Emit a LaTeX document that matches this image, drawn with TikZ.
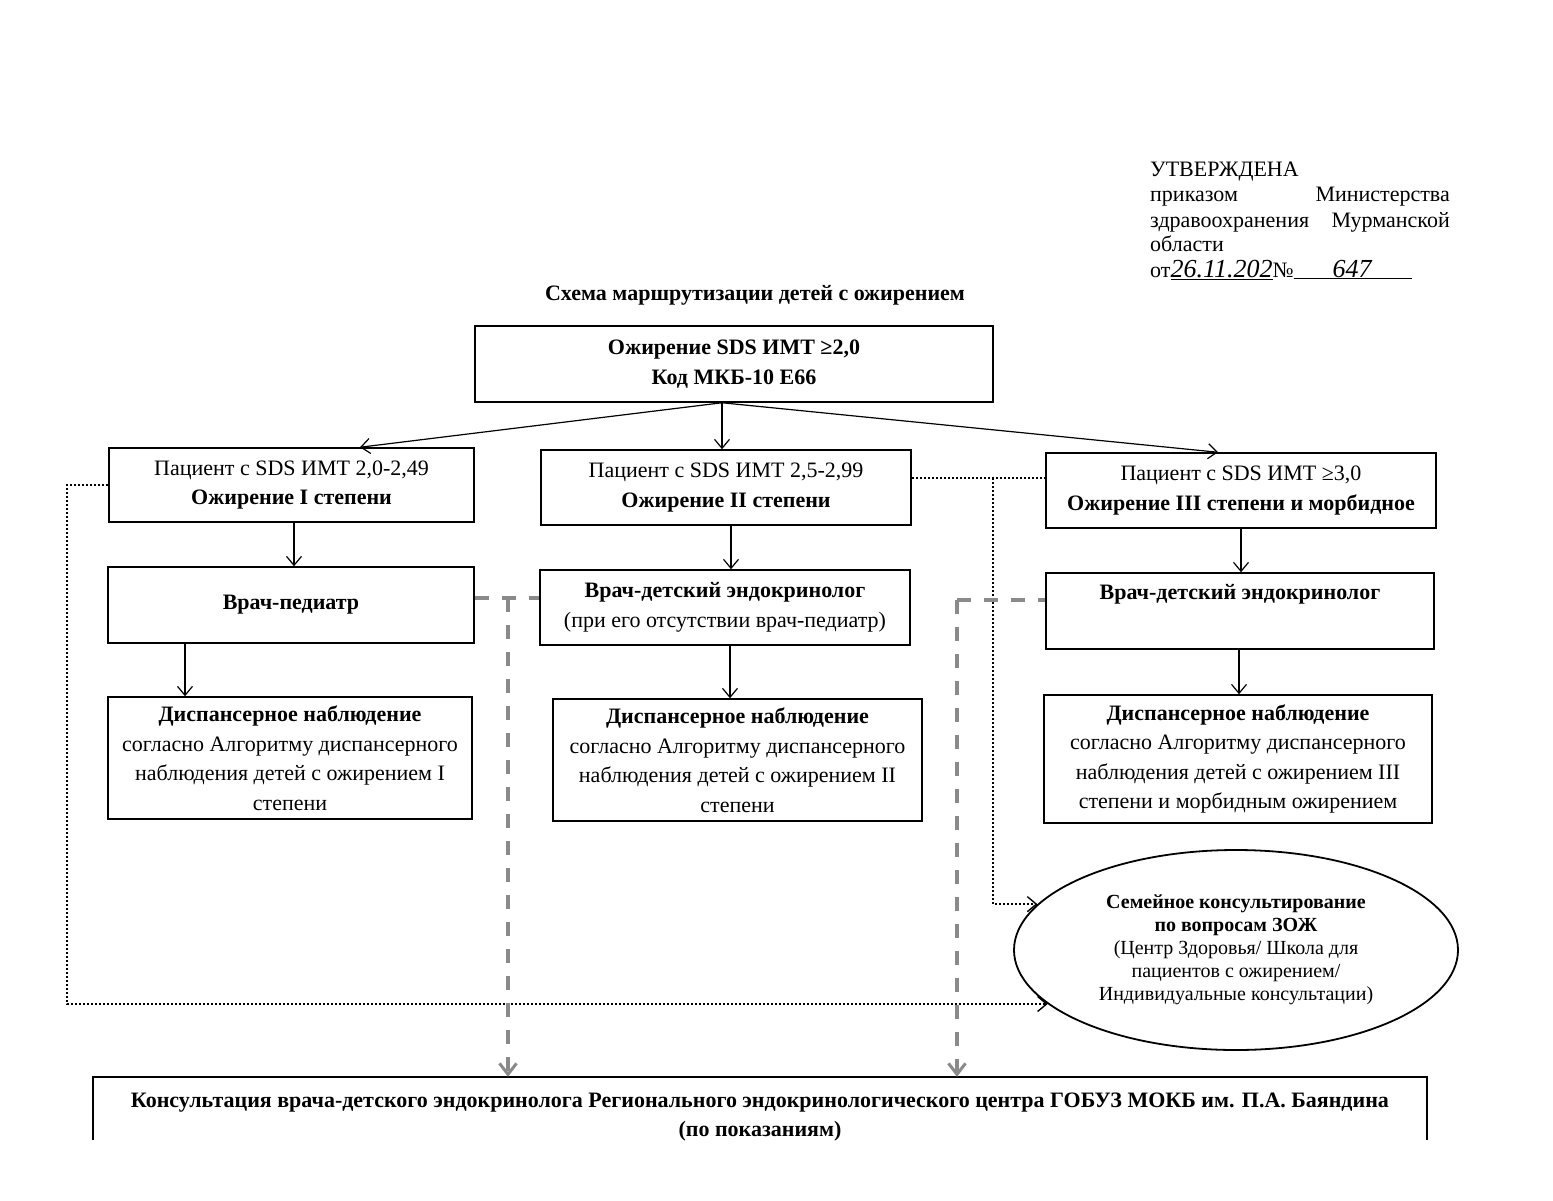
\documentclass[tikz,border=0pt]{standalone}
\usepackage{fontspec}
\setmainfont{Liberation Serif}
\usetikzlibrary{arrows.meta,shapes.geometric,calc}
\newcommand\mainfs{\fontsize{22}{29.5}\selectfont}
\newcommand\ellfs{\fontsize{20}{23}\selectfont}
\newcommand\handfs{\fontsize{26}{26}\selectfont}
\definecolor{dashgray}{HTML}{8A8A8A}
\begin{document}
\begin{tikzpicture}[x=1pt,y=-1pt,
  box/.style={draw, line width=1.5pt, align=center, inner sep=0pt, font=\mainfs},
  arr/.style={line width=1.2pt, -{Straight Barb[length=9pt,width=15pt,line width=1.2pt]}},
  graydash/.style={draw=dashgray, line width=4pt, dash pattern=on 14pt off 13pt},
  grayarr/.style={graydash, -{Straight Barb[length=11pt,width=17pt,line width=3pt]}},
  dotline/.style={line width=1.8pt, dash pattern=on 1.8pt off 2.2pt},
  dotarr/.style={dotline, -{Straight Barb[length=9pt,width=15pt,line width=1.4pt]}},
  txt/.style={font=\mainfs, inner sep=0pt}
]
\useasboundingbox (0,0) rectangle (1553,1200);
\fill[white] (0,0) rectangle (1553,1200);

% approval block
\node[txt, anchor=base west] (u1) at (1150,176) {УТВЕРЖДЕНА};
\node[txt, anchor=base west] (u2a) at (1150,201) {приказом};
\node[txt, anchor=base east] (u2b) at (1450,201) {Министерства};
\node[txt, anchor=base west] (u3a) at (1150,227) {здравоохранения};
\node[txt, anchor=base east] (u3b) at (1450,227) {Мурманской};
\node[txt, anchor=base west] (u4) at (1150,251) {области};
\node[txt, anchor=base west] (u5) at (1150,277) {от\underline{\handfs\textit{26.11.202}}№\underline{\makebox[118pt]{\handfs\textit{647}}}};

% title
\node[txt] (title) at (755,295) {\textbf{Схема маршрутизации детей с ожирением}};

% boxes
\node[box, minimum width=518, minimum height=76] (top) at (734,364)
  {\textbf{Ожирение SDS ИМТ ≥2,0}\\\textbf{Код МКБ-10 Е66}};
\node[box, minimum width=365, minimum height=74] (b1) at (291.5,485)
  {Пациент с SDS ИМТ 2,0-2,49\\\textbf{Ожирение I степени}};
\node[box, minimum width=370, minimum height=75] (b2) at (726,487.5)
  {Пациент с SDS ИМТ 2,5-2,99\\\textbf{Ожирение II степени}};
\node[box, minimum width=390, minimum height=75] (b3) at (1241,490.5)
  {Пациент с SDS ИМТ ≥3,0\\\textbf{Ожирение III степени и морбидное}};
\node[box, minimum width=366, minimum height=76] (b4) at (291,605)
  {\textbf{Врач-педиатр}};
\node[box, minimum width=370, minimum height=75] (b5) at (725,607.5)
  {\textbf{Врач-детский эндокринолог}\\(при его отсутствии врач-педиатр)};
\node[box, minimum width=388, minimum height=76] (b6) at (1240,611)
  {\textbf{Врач-детский эндокринолог}\\\strut};
\node[box, minimum width=364, minimum height=122] (b7) at (290,758)
  {\textbf{Диспансерное наблюдение}\\согласно Алгоритму диспансерного\\наблюдения детей с ожирением I\\степени};
\node[box, minimum width=369, minimum height=122] (b8) at (737.5,760)
  {\textbf{Диспансерное наблюдение}\\согласно Алгоритму диспансерного\\наблюдения детей с ожирением II\\степени};
\node[box, minimum width=388, minimum height=128] (b9) at (1238,759)
  {\textbf{Диспансерное наблюдение}\\согласно Алгоритму диспансерного\\наблюдения детей с ожирением III\\степени и морбидным ожирением};
\node[ellipse, draw, line width=1.8pt, minimum width=444, minimum height=200, inner sep=0pt,
      align=center, font=\ellfs] (ell) at (1236,950)
  {\textbf{Семейное консультирование}\\\textbf{по вопросам ЗОЖ}\\(Центр Здоровья/ Школа для\\пациентов с ожирением/\\Индивидуальные консультации)};
\node[minimum width=1334, minimum height=80, inner sep=0pt, align=center, font=\mainfs] (bot) at (760,1117)
  {\textbf{Консультация врача-детского эндокринолога Регионального эндокринологического центра ГОБУЗ МОКБ им. П.А. Баяндина}\\\textbf{(по показаниям)}};
\coordinate (botend) at (0,1140);
\draw[line width=1.5pt] (bot.north west |- botend) -- (bot.north west) -- (bot.north east) -- (bot.north east |- botend);

% helper coordinates
\coordinate (xa) at (722,0);
\coordinate (xb1) at (360,0);
\coordinate (xb3) at (1218,0);
\coordinate (c1) at (294,0);
\coordinate (c2) at (185,0);
\coordinate (c3) at (731,0);
\coordinate (c4) at (730,0);
\coordinate (c5) at (1241,0);
\coordinate (c6) at (1239,0);
\coordinate (dL) at (508,598);
\coordinate (dR) at (957,600);
\coordinate (oL) at (67,0);
\coordinate (oR) at (993,478);

% solid arrows
\draw[arr] (top.south -| xa) -- (b1.north -| xb1);
\draw[arr] (top.south -| xa) -- (b2.north -| xa);
\draw[arr] (top.south -| xa) -- (b3.north -| xb3);
\draw[arr] (b1.south -| c1) -- (b4.north -| c1);
\draw[arr] (b4.south -| c2) -- (b7.north -| c2);
\draw[arr] (b2.south -| c3) -- (b5.north -| c3);
\draw[arr] (b5.south -| c4) -- (b8.north -| c4);
\draw[arr] (b3.south -| c5) -- (b6.north -| c5);
\draw[arr] (b6.south -| c6) -- (b9.north -| c6);

% dotted connectors
\draw[dotline] (b2.east |- oR) -- (b3.west |- oR);
\draw[dotarr] (oR) |- (ell.167);
\draw[dotarr] (b1.west) -| (oL |- ell.196) -- (ell.196);

% gray dashed connectors
\draw[graydash] (b4.east |- dL) -- (b5.west |- dL);
\draw[grayarr] (dL) -- (dL |- bot.north);
\draw[graydash] (dR) -- (b6.west |- dR);
\draw[grayarr] (dR) -- (dR |- bot.north);
\end{tikzpicture}
\end{document}
